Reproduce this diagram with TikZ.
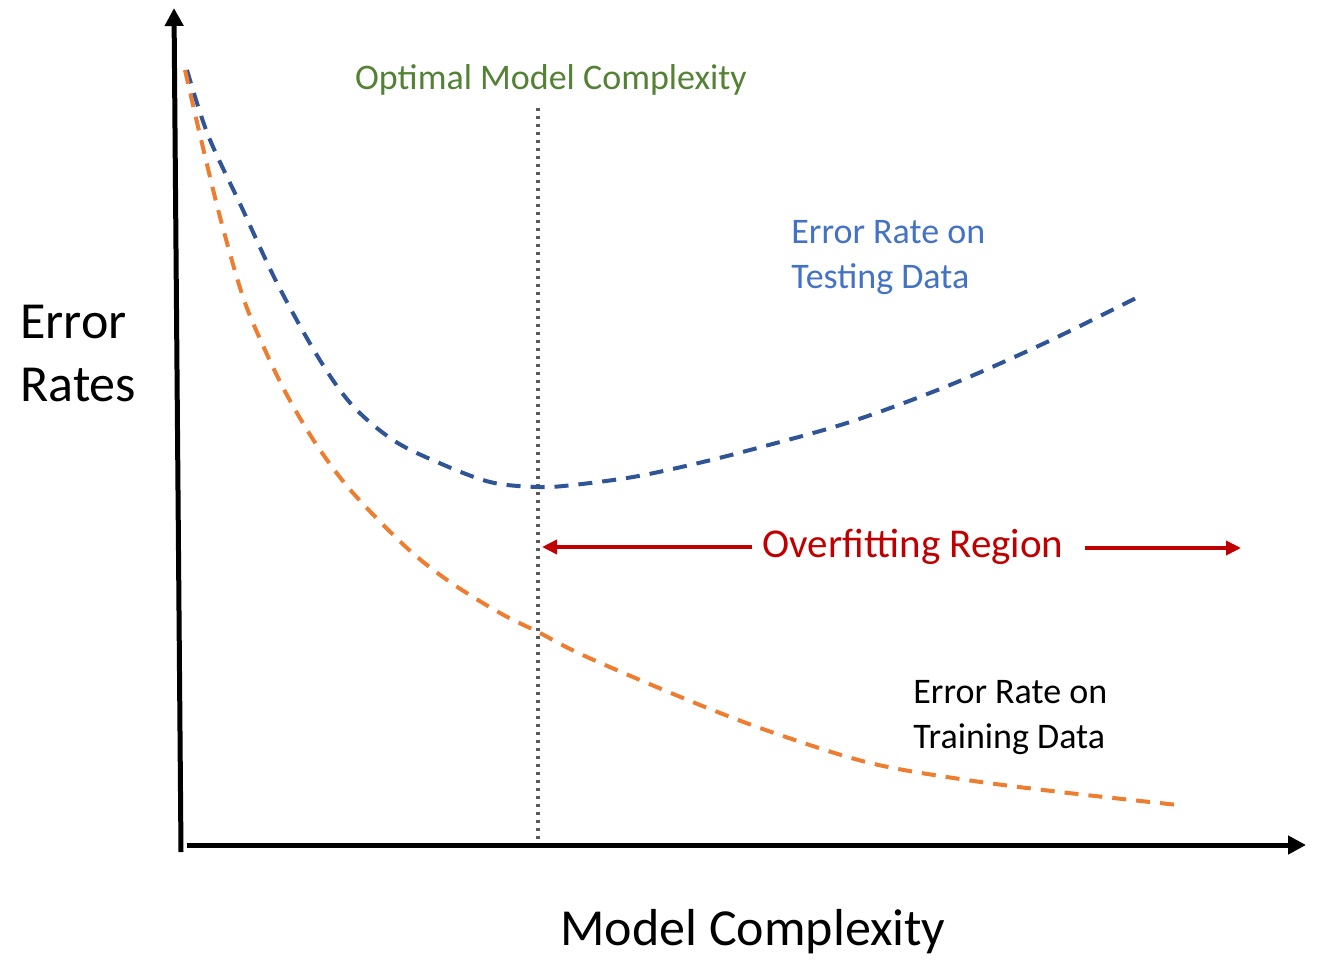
\documentclass[tikz,border=0pt]{standalone}
\usepackage{fontspec}
\setmainfont{Carlito}
\usetikzlibrary{arrows.meta}
\definecolor{optGreen}{HTML}{548235}
\definecolor{testBlue}{HTML}{4472C4}
\definecolor{testBlueDark}{HTML}{2F5597}
\definecolor{trainOrange}{HTML}{ED7D31}
\definecolor{regionRed}{HTML}{C00000}
\definecolor{optGray}{HTML}{595959}

\begin{document}
\begin{tikzpicture}[x=0.5pt, y=-0.5pt,
    axisLine/.style={line width=2.5pt, -{Triangle[length=9pt, width=9pt]}},
    optLine/.style={draw=optGray, line width=1.6pt, dash pattern=on 1.5pt off 2.5pt},
    testCurve/.style={draw=testBlueDark, line width=2pt, dash pattern=on 7pt off 5pt},
    trainCurve/.style={draw=trainOrange, line width=2pt, dash pattern=on 7pt off 5pt},
    regionArrow/.style={draw=regionRed, line width=1.8pt, -{Triangle[length=7.5pt, width=7pt]}},
    axisTitle/.style={font=\fontsize{26}{31.5}\selectfont, inner sep=0pt, align=left},
    curveLabel/.style={font=\fontsize{18}{22.5}\selectfont, inner sep=0pt, align=left},
]
\useasboundingbox (0,0) rectangle (1317,959);
\node[axisTitle, anchor=west] (yTitle) at (20,354) {Error\\Rates};
\node[axisTitle, anchor=center] (xTitle) at (753,932) {Model Complexity};
\node[curveLabel, text=optGreen, anchor=center] (optLabel) at (551,80) {Optimal Model Complexity};
\node[curveLabel, text=testBlue, anchor=north west] (testLabel) at (791,220) {Error Rate on\\Testing Data};
\node[curveLabel, anchor=north west] (trainLabel) at (913,680) {Error Rate on\\Training Data};
\node[font=\fontsize{20.5}{24}\selectfont, text=regionRed, inner sep=0pt] (overfit) at (913,547) {Overfitting Region};
\draw[axisLine] (181,852) -- (174,8);
\draw[axisLine] (187,845) -- (1306,845);
\coordinate (optTop) at (538,108);
\coordinate (optBottom) at (538,840);
\draw[optLine] (optTop) -- (optBottom);
\coordinate (leftEnd) at (542,547);
\coordinate (rightEnd) at (1241,548);
\draw[regionArrow] ([xshift=-5pt]overfit.west) -- (leftEnd);
\draw[regionArrow] ([xshift=10.5pt, yshift=-0.5pt]overfit.east) -- (rightEnd);
\draw[testCurve] plot[smooth, tension=0.55] coordinates {(187,70) (208,135) (242,208) (277,283) (318,357) (352,405) (393,440) (437,462) (490,482) (538,487) (573,485) (633,477) (690,465) (750,450) (850,422) (950,385) (1047,342) (1142,295)};
\draw[trainCurve] plot[smooth, tension=0.55] coordinates {(185,70) (200,135) (220,217) (243,297) (265,350) (288,397) (318,447) (353,493) (407,548) (450,582) (500,613) (538,632) (587,657) (700,705) (780,735) (870,763) (960,779) (1060,792) (1178,805)};
\end{tikzpicture}
\end{document}
